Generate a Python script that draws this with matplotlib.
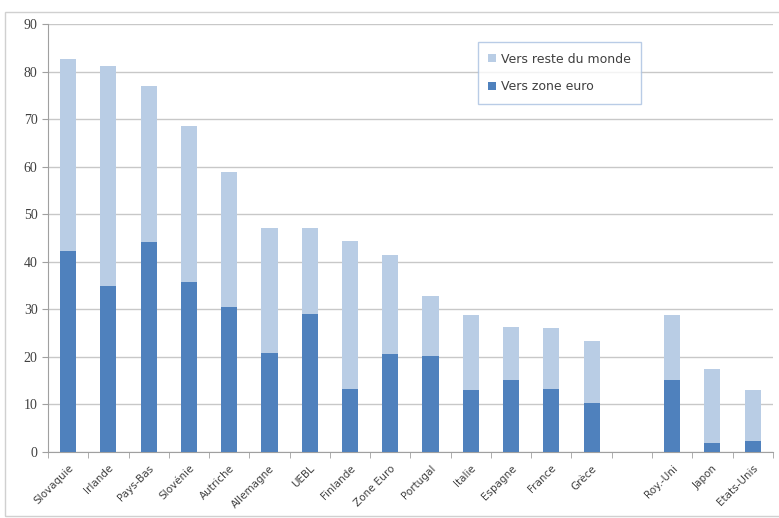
import numpy as np
import matplotlib
matplotlib.use('Agg')
import matplotlib.pyplot as plt
from matplotlib.patches import Rectangle

# data
pays = ['Slovaquie', 'Irlande', 'Pays-Bas', 'Slovénie', 'Autriche', 'Allemagne',
        'UEBL', 'Finlande', 'Zone Euro', 'Portugal', 'Italie', 'Espagne',
        'France', 'Grèce', '', 'Roy.-Uni', 'Japon', 'Etats-Unis']
total = [82.6, 81.2, 77.0, 68.5, 58.9, 47.1, 47.1, 44.4, 41.4, 32.8, 28.8,
         26.3, 26.1, 23.3, 0, 28.8, 17.5, 13.0]
zone_euro = [42.3, 34.9, 44.2, 35.7, 30.5, 20.8, 29.0, 13.2, 20.6, 20.2, 13.0,
             15.1, 13.2, 10.3, 0, 15.1, 1.9, 2.3]
reste = [t - z for t, z in zip(total, zone_euro)]

dark = '#4F81BD'
light = '#B9CDE5'

fig = plt.figure(figsize=(7.79, 5.18), dpi=100)
fig.patches.append(Rectangle((0.006, 0.004), 1.0, 0.972, transform=fig.transFigure,
                             fill=False, edgecolor='#d0d0d0', lw=1))
ax = fig.add_axes([0.0616, 0.1274, 0.9304, 0.8263])

x = np.arange(len(pays))
ax.bar(x, zone_euro, width=0.4, color=dark, label='Vers zone euro', zorder=3)
ax.bar(x, reste, width=0.4, bottom=zone_euro, color=light,
       label='Vers reste du monde', zorder=3)

ax.set_xlim(-0.5, len(pays) - 0.5)
ax.set_ylim(0, 90)
ax.set_yticks(range(0, 91, 10))
ax.yaxis.grid(True, color='#c8c8c8', lw=1, zorder=0)
for lbl in ax.get_yticklabels():
    lbl.set_family('Liberation Serif')
ax.tick_params(axis='y', labelsize=10, colors='#404040', length=4, color='#a0a0a0')

ax.set_xticks(x)
ax.set_xticklabels(pays, rotation=45, ha='right', rotation_mode='anchor',
                   fontsize=7.5, color='#404040')
ax.tick_params(axis='x', length=0, pad=8)
ax.set_xticks(np.arange(-0.5, len(pays)), minor=True)
ax.tick_params(axis='x', which='minor', length=4, color='#a0a0a0')

for s in ['top', 'right']:
    ax.spines[s].set_visible(False)
ax.spines['left'].set_color('#a0a0a0')
ax.spines['bottom'].set_color('#a0a0a0')

h, l = ax.get_legend_handles_labels()
leg = ax.legend(h[::-1], l[::-1], loc='upper left', bbox_to_anchor=(0.593, 0.958),
                fontsize=9, frameon=True, fancybox=False, handlelength=0.6,
                handleheight=0.6, labelspacing=1.15, borderpad=0.85,
                handletextpad=0.4, borderaxespad=0)
leg.get_frame().set_edgecolor('#a8c0e0')
leg.get_frame().set_linewidth(1)
for t in leg.get_texts():
    t.set_color('#404040')

fig.savefig('out.png', dpi=100)
